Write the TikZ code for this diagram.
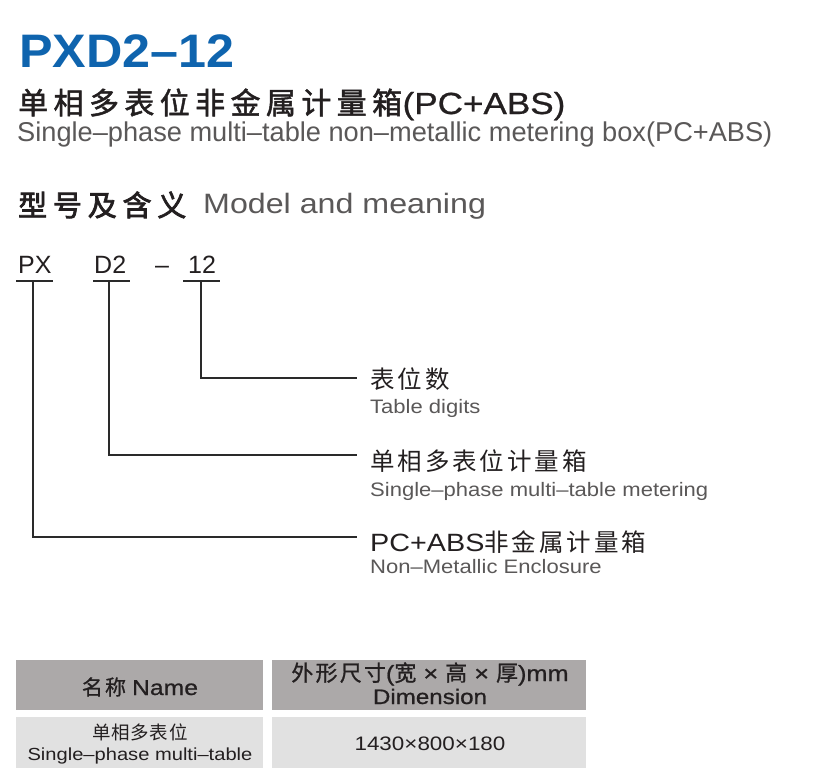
\documentclass[tikz,border=0pt]{standalone}
\usepackage{fontspec}
\setmainfont{Liberation Sans}
\newfontfamily\latw{Liberation Sans}[FakeStretch=1.15]
\newfontfamily\latt{Liberation Sans}[FakeStretch=1.13]
\newfontfamily\titlefont{Liberation Sans}[FakeStretch=1.07]
\newfontfamily\cjk{Noto Sans CJK SC}
\newfontfamily\cjkmed{Noto Sans CJK SC}[FakeBold=1.6]
\newfontfamily\cjkhvy{Noto Sans CJK SC}[FakeBold=2.6]
\newfontfamily\cjksemi{Noto Sans CJK SC}[FakeBold=0.8]
\newfontfamily\latsemi{Liberation Sans}[FakeStretch=1.15,FakeBold=0.8]
\newcommand{\setfs}[1]{\fontsize{#1}{#1}\selectfont}
\definecolor{ttlblue}{HTML}{0F64AE}
\definecolor{ink}{HTML}{231F20}
\definecolor{greytxt}{HTML}{5A5858}
\definecolor{hdrfill}{HTML}{ACA9A9}
\definecolor{rowfill}{HTML}{E1E1E1}
\definecolor{linecol}{HTML}{2A2A2A}
\begin{document}
\begin{tikzpicture}[x=1pt,y=-1pt,
  txt/.style={inner sep=0pt, anchor=base west, text=ink},
  entxt/.style={inner sep=0pt, anchor=base west, text=greytxt},
  ctxt/.style={inner sep=0pt, anchor=base, text=ink},
  ln/.style={draw=linecol, line width=1.2pt}]
\useasboundingbox[fill=white] (0,0) rectangle (828,784);

% titles
\node[txt, text=ttlblue] (title) at (19,67) {\titlefont\bfseries\setfs{47}PXD2–12};
\node[txt] (cntitle) at (18,114) {\cjkmed\addfontfeature{LetterSpace=18}\setfs{30}单相多表位非金属计量箱};
\node[txt] (cntitleb) at (cntitle.base east) {\latsemi\setfs{30.5}(PC+ABS)};
\node[entxt] (entitle) at (17,142) {\setfs{27.2}Single–phase multi–table non–metallic metering box(PC+ABS)};

% section heading
\node[txt] (sec) at (18,216) {\cjkhvy\addfontfeature{LetterSpace=20}\setfs{29}型号及含义};
\node[entxt] (secen) at (203,213) {\latw\setfs{28}Model and meaning};

% model code
\node[txt] (cpx) at (18,273) {\setfs{25}PX};
\node[txt] (cd2) at (94,273) {\setfs{25}D2};
\node[txt] (cdash) at (155,273) {\setfs{25}–};
\node[txt] (c12) at (188,273) {\setfs{25}12};

\coordinate (u1l) at (16,281);  \coordinate (u1r) at (53,281);
\coordinate (u2l) at (93,281);  \coordinate (u2r) at (130,281);
\coordinate (u3l) at (183,281); \coordinate (u3r) at (220,281);
\coordinate (t1) at (33,281);
\coordinate (t2) at (109,281);
\coordinate (t3) at (201,281);
\coordinate (e3) at (357,378);
\coordinate (e2) at (357,455);
\coordinate (e1) at (357,537);

\draw[ln] (u1l) -- (u1r);
\draw[ln] (u2l) -- (u2r);
\draw[ln] (u3l) -- (u3r);
\draw[ln] (t3) |- (e3);
\draw[ln] (t2) |- (e2);
\draw[ln] (t1) |- (e1);

% labels
\node[txt] (lab1) at (370,388) {\cjk\addfontfeature{LetterSpace=12}\setfs{24.5}表位数};
\node[entxt] (lab1en) at (370,413) {\latt\setfs{19.5}Table digits};
\node[txt] (lab2) at (370,470) {\cjk\addfontfeature{LetterSpace=12}\setfs{24.5}单相多表位计量箱};
\node[entxt] (lab2en) at (370,496) {\latt\setfs{19.5}Single–phase multi–table metering};
\node[txt] (lab3) at (370,551) {{\latw\setfs{25}PC+ABS}{\cjk\addfontfeature{LetterSpace=12}\setfs{24.5}非金属计量箱}};
\node[entxt] (lab3en) at (370,573) {\latt\setfs{19.5}Non–Metallic Enclosure};

% table
\fill[hdrfill] (16,660) rectangle (263,710);
\fill[hdrfill] (272,660) rectangle (586,710);
\fill[rowfill] (16,717) rectangle (263,768);
\fill[rowfill] (272,717) rectangle (586,768);

\node[ctxt] (hname) at (140,695) {{\cjksemi\addfontfeature{LetterSpace=10}\setfs{21}名称}\hspace{6pt}{\latsemi\setfs{21.5}Name}};
\node[ctxt] (hdim) at (430,681) {\cjksemi\addfontfeature{LetterSpace=10}\setfs{22}外形尺寸{\latsemi(}宽{\latsemi{} × }高{\latsemi{} × }厚{\latsemi)mm}};
\node[ctxt] (hdimen) at (430,704) {\latsemi\setfs{21}Dimension};
\node[ctxt] (rname) at (140,739) {\cjk\addfontfeature{LetterSpace=4}\setfs{18.5}单相多表位};
\node[ctxt] (rnameen) at (140,760) {\latw\setfs{17.5}Single–phase multi–table};
\node[ctxt] (rdim) at (430,750) {\latw\setfs{19.5}1430×800×180};
\end{tikzpicture}
\end{document}
